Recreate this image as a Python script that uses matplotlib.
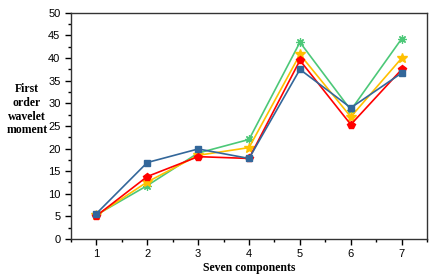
import numpy as np
import matplotlib
matplotlib.use('Agg')
import matplotlib.pyplot as plt
from matplotlib.ticker import MultipleLocator

# data
components = [1, 2, 3, 4, 5, 6, 7]
blue_vals   = [5.6, 16.9, 19.9, 17.8, 37.5, 29.0, 36.7]
red_vals    = [5.1, 13.8, 18.2, 17.8, 39.5, 25.3, 37.5]
orange_vals = [5.2, 12.6, 18.5, 20.2, 40.8, 27.0, 40.0]
green_vals  = [5.3, 11.8, 19.0, 22.0, 43.5, 28.5, 44.3]

plt.rcParams['font.family'] = ['Liberation Sans', 'DejaVu Sans']

fig = plt.figure(figsize=(4.35, 2.74), dpi=100)
ax = fig.add_axes([0.163, 0.128, 0.819, 0.825])

# asterisk marker for the green series
ax.plot(components, green_vals, color='#4cc878', lw=1.2, marker=(8, 2, 0), ms=6, mew=0.9, zorder=2)
ax.plot(components, orange_vals, color='#ffc000', lw=1.2, marker='*', ms=7, zorder=3)
ax.plot(components, red_vals, color='#ff0000', lw=1.2, marker='p', ms=6, zorder=4)
ax.plot(components, blue_vals, color='#33679a', lw=1.2, marker='s', ms=5, zorder=5)

ax.set_xlim(0.5, 7.5)
ax.set_ylim(0, 50)
ax.xaxis.set_major_locator(MultipleLocator(1))
ax.xaxis.set_minor_locator(MultipleLocator(0.5))
ax.yaxis.set_major_locator(MultipleLocator(5))
ax.yaxis.set_minor_locator(MultipleLocator(2.5))
ax.tick_params(which='major', direction='out', length=4, width=1, labelsize=8)
ax.tick_params(which='minor', direction='out', length=2, width=1)
for s in ax.spines.values():
    s.set_linewidth(1.0)
    s.set_color('#333333')

ax.set_xlabel('Seven components', family='Liberation Serif', fontweight='bold', fontsize=8.5, labelpad=2)
fig.text(0.062, 0.6, 'First\norder\nwavelet\nmoment', family='Liberation Serif',
         fontweight='bold', fontsize=8.5, ha='center', va='center', linespacing=1.2)

fig.savefig('out.png', dpi=100)
